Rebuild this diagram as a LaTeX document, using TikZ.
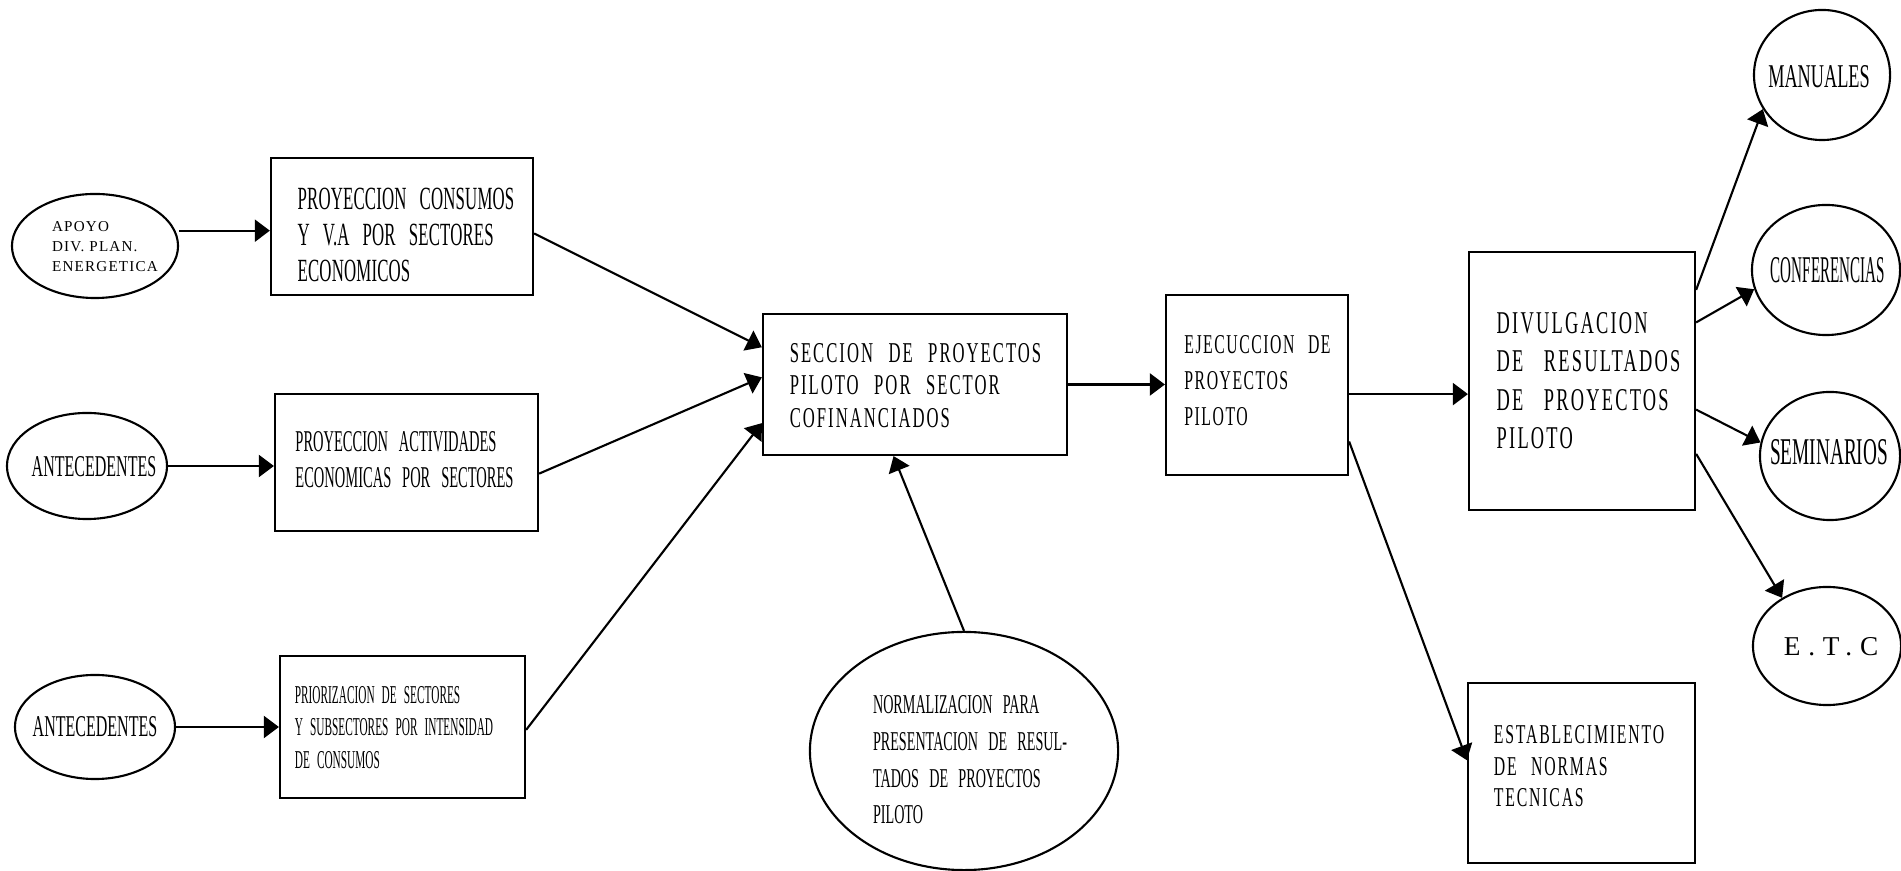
\documentclass[tikz,border=0pt]{standalone}
\usepackage{fontspec}
\setmainfont{Liberation Serif}
\usetikzlibrary{shapes.geometric,arrows.meta,calc}

% narrow plotter-like lettering: stretch, size, line skip, word spacing, letter spacing
\newcommand\plotfont[5]{\fontspec[FakeStretch=#1,WordSpace=#4,LetterSpace=#5]{Liberation Serif}\fontsize{#2}{#3}\selectfont}
% letter-spaced lettering: spacing, size, line skip
\newcommand\widefont[3]{\fontspec[LetterSpace=#1]{Liberation Serif}\fontsize{#2}{#3}\selectfont}

\begin{document}
\begin{tikzpicture}[x=0.01cm,y=-0.01cm,
  stage/.style={draw, rectangle, line width=0.6pt, inner sep=0pt},
  oval/.style={draw, ellipse, line width=0.6pt, inner sep=0pt},
  txt/.style={inner sep=0pt, align=left},
  flow/.style={line width=0.6pt, -{Triangle[length=0.15cm,width=0.22cm]}},
]
\useasboundingbox[fill=white] (0,0) rectangle (1901,871);

% process boxes
\node[stage, minimum width=2.62cm, minimum height=1.37cm] (b1)  at (402,226.5) {};
\node[stage, minimum width=2.63cm, minimum height=1.37cm] (b2)  at (406.5,462.5) {};
\node[stage, minimum width=2.45cm, minimum height=1.42cm] (b3)  at (402.5,727) {};
\node[stage, minimum width=3.04cm, minimum height=1.41cm] (sec) at (915,384.5) {};
\node[stage, minimum width=1.82cm, minimum height=1.80cm] (eje) at (1257,385) {};
\node[stage, minimum width=2.26cm, minimum height=2.58cm] (div) at (1582,381) {};
\node[stage, minimum width=2.27cm, minimum height=1.80cm] (est) at (1581.5,773) {};

% sources and outputs
\node[oval, minimum width=1.66cm, minimum height=1.04cm] (apoyo) at (95,246) {};
\node[oval, minimum width=1.60cm, minimum height=1.06cm] (ant1)  at (87,466) {};
\node[oval, minimum width=1.60cm, minimum height=1.04cm] (ant2)  at (95,727) {};
\node[oval, minimum width=3.08cm, minimum height=2.38cm] (norm)  at (964,751) {};
\node[oval, minimum width=1.36cm, minimum height=1.30cm] (man)   at (1822,75) {};
\node[oval, minimum width=1.48cm, minimum height=1.30cm] (conf)  at (1826,270) {};
\node[oval, minimum width=1.40cm, minimum height=1.28cm] (sem)   at (1830,456) {};
\node[oval, minimum width=1.48cm, minimum height=1.18cm] (etc)   at (1827,646) {};

% labels
\node[txt, font={\plotfont{0.52}{9.2pt}{10.2pt}{3}{0.5}}] (b1t) at (406,235)
  {PROYECCION CONSUMOS\\Y V.A POR SECTORES\\ECONOMICOS};
\node[txt, font={\plotfont{0.48}{8.59pt}{10.24pt}{3}{0}}] (b2t) at (404.5,460)
  {PROYECCION ACTIVIDADES\\ECONOMICAS POR SECTORES};
\node[txt, font={\plotfont{0.44}{7.31pt}{9.25pt}{2.5}{0}}] (b3t) at (394,727.5)
  {PRIORIZACION DE SECTORES\\Y SUBSECTORES POR INTENSIDAD\\DE CONSUMOS};
\node[txt, font={\plotfont{0.58}{8.17pt}{9.25pt}{2.5}{7}}] (sect) at (915.5,385.5)
  {SECCION DE PROYECTOS\\PILOTO POR SECTOR\\COFINANCIADOS};
\node[txt, font={\plotfont{0.58}{7.74pt}{10.24pt}{2.5}{5.5}}] (ejet) at (1257.5,381)
  {EJECUCCION DE\\PROYECTOS\\PILOTO};
\node[txt, font={\plotfont{0.58}{9.02pt}{10.9pt}{3}{7}}] (divt) at (1588.5,380.5)
  {DIVULGACION\\DE RESULTADOS\\DE PROYECTOS\\PILOTO};
\node[txt, font={\plotfont{0.58}{7.74pt}{8.96pt}{2.5}{6.7}}] (estt) at (1579,766.5)
  {ESTABLECIMIENTO\\DE NORMAS\\TECNICAS};
\node[txt, font={\plotfont{0.52}{7.74pt}{10.44pt}{2.9}{0}}] (normt) at (970,760)
  {NORMALIZACION PARA\\PRESENTACION DE RESUL-\\TADOS DE PROYECTOS\\PILOTO};
\node[txt, font={\widefont{8}{4.3pt}{5.7pt}}] (apoyot) at (105,247)
  {APOYO\\DIV. PLAN.\\ENERGETICA};
\node[txt, font={\plotfont{0.53}{8.59pt}{10pt}{1}{0}}] (ant1t) at (94,467) {ANTECEDENTES};
\node[txt, font={\plotfont{0.53}{8.59pt}{10pt}{1}{0}}] (ant2t) at (95,727) {ANTECEDENTES};
\node[txt, font={\plotfont{0.55}{9.45pt}{10pt}{1}{0}}] (mant) at (1819,77) {MANUALES};
\node[txt, font={\plotfont{0.40}{10.75pt}{11pt}{1}{0}}] (conft) at (1828,270) {CONFERENCIAS};
\node[txt, font={\plotfont{0.51}{10.75pt}{11pt}{1}{0}}] (semt) at (1829,452) {SEMINARIOS};
\node[txt, font={\widefont{29}{7.74pt}{9pt}}] (etct) at (1831,647) {E.T.C};

% connectors
\coordinate (a1) at ($(b1.north west)!0.53!(b1.south west)$);
\draw[flow] (a1 -| apoyo.east) -- (a1);
\draw[flow] (ant1.east) -- (ant1.east -| b2.west);
\draw[flow] (ant2.east) -- (ant2.east -| b3.west);
\draw[flow] ($(b1.north east)!0.55!(b1.south east)$) -- ($(sec.north west)!0.24!(sec.south west)$);
\draw[flow] ($(b2.north east)!0.58!(b2.south east)$) -- ($(sec.north west)!0.45!(sec.south west)$);
\draw[flow] ($(b3.north east)!0.52!(b3.south east)$) -- ($(sec.north west)!0.77!(sec.south west)$);
\draw[flow] (norm.north) -- ($(sec.south west)!0.43!(sec.south east)$);
\draw[flow] (sec.east) -- (sec.east -| eje.west);
\coordinate (e1) at ($(eje.north east)!0.55!(eje.south east)$);
\draw[flow] (e1) -- (e1 -| div.west);
\draw[flow] ($(eje.north east)!0.81!(eje.south east)$) -- ($(est.north west)!0.43!(est.south west)$);
\draw[flow] ($(div.north east)!0.15!(div.south east)$) -- (man.210);
\draw[flow] ($(div.north east)!0.275!(div.south east)$) -- (conf.195);
\draw[flow] ($(div.north east)!0.61!(div.south east)$) -- (sem.169);
\draw[flow] ($(div.north east)!0.78!(div.south east)$) -- (etc.133);
\end{tikzpicture}
\end{document}
